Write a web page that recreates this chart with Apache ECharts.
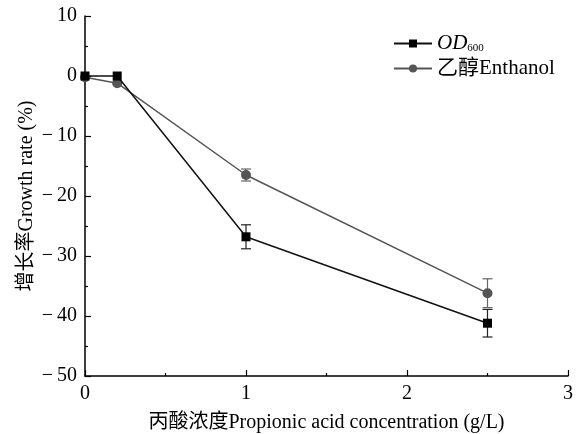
<!DOCTYPE html>
<html><head><meta charset="utf-8">
<script src="https://cdn.jsdelivr.net/npm/echarts@6/dist/echarts.min.js"></script>
<style>html,body{margin:0;padding:0;background:#fff}#c{width:580px;height:434px}</style>
</head><body><div id="c"></div>
<script>
const xValues = [0, 0.2, 1, 2.5];
const odValues = [0, 0, -26.8, -41.2];
const odErr = [0, 0, 2.0, 2.3];
const ethValues = [-0.2, -1.2, -16.5, -36.2];
const ethErr = [0, 0, 1.0, 2.4];
const xTicks = [0, 1, 2, 3];
const yTicks = [10, 0, -10, -20, -30, -40, -50];

const serif = '"Liberation Serif","Times New Roman","Noto Sans CJK SC",serif';

function errSeries(name, vals, errs, color) {
  return {
    type: 'custom', name: name + '_err', silent: true, z: 1,
    data: xValues.map((x, i) => [x, vals[i] - errs[i], vals[i] + errs[i]]).filter((d, i) => errs[i] > 0),
    renderItem: function (params, api) {
      const lo = api.coord([api.value(0), api.value(1)]);
      const hi = api.coord([api.value(0), api.value(2)]);
      const w = 5;
      const st = { stroke: color, lineWidth: 1.2 };
      return { type: 'group', children: [
        { type: 'line', shape: { x1: lo[0], y1: lo[1], x2: hi[0], y2: hi[1] }, style: st },
        { type: 'line', shape: { x1: lo[0] - w, y1: lo[1], x2: lo[0] + w, y2: lo[1] }, style: st },
        { type: 'line', shape: { x1: hi[0] - w, y1: hi[1], x2: hi[0] + w, y2: hi[1] }, style: st }
      ]};
    }
  };
}

const chart = echarts.init(document.getElementById('c'), null, { renderer: 'canvas' });
chart.setOption({
  animation: false,
  backgroundColor: '#fff',
  textStyle: { fontFamily: serif },
  grid: { left: 85, top: 16, right: 12, bottom: 58, containLabel: false, outerBoundsMode: 'none' },
  legend: {
    top: 33, left: 393, padding: 0, orient: 'vertical', itemGap: 4, itemWidth: 38, itemHeight: 10,
    data: ['OD', 'Ethanol'],
    textStyle: {
      fontFamily: serif, fontSize: 21, color: '#000',
      rich: {
        it: { fontStyle: 'italic', fontSize: 21, fontFamily: serif, color: '#000' },
        sub: { fontSize: 11, fontFamily: serif, color: '#000', verticalAlign: 'bottom', padding: [10, 0, 0, 0] },
        n: { fontSize: 21, fontFamily: serif, color: '#000' }
      }
    },
    formatter: function (n) { return n === 'OD' ? '{it|OD}{sub|600}' : '{n|乙醇Enthanol}'; }
  },
  xAxis: {
    type: 'value', min: 0, max: 3, interval: 1,
    axisLine: { show: true, onZero: false, lineStyle: { color: '#000', width: 1.5 } },
    axisTick: { show: true, inside: true, length: 6, lineStyle: { color: '#000', width: 1.2 } },
    minorTick: { show: true, splitNumber: 2, length: 3, lineStyle: { color: '#000', width: 1.2 } },
    splitLine: { show: false },
    axisLabel: { color: '#000', fontSize: 20, fontFamily: serif, margin: 8,
      formatter: v => xTicks.includes(v) ? String(v) : '' },
    name: '丙酸浓度Propionic acid concentration (g/L)', nameLocation: 'middle', nameGap: 37,
    nameTextStyle: { color: '#000', fontSize: 20, fontFamily: serif }
  },
  yAxis: {
    type: 'value', min: -50, max: 10, interval: 10,
    axisLine: { show: true, onZero: false, lineStyle: { color: '#000', width: 1.5 } },
    axisTick: { show: true, inside: true, length: 6, lineStyle: { color: '#000', width: 1.2 } },
    minorTick: { show: true, splitNumber: 2, length: 3, lineStyle: { color: '#000', width: 1.2 } },
    splitLine: { show: false },
    axisLabel: { color: '#000', fontSize: 20, fontFamily: serif, margin: 8,
      formatter: v => yTicks.includes(v) ? (v < 0 ? '\u2212\u2009' + (-v) : String(v)) : '' },
    name: '增长率Growth rate (%)', nameLocation: 'middle', nameGap: 48, nameRotate: 90,
    nameMoveOverlap: false,
    nameTextStyle: { color: '#000', fontSize: 20, fontFamily: serif }
  },
  series: [
    errSeries('OD', odValues, odErr, '#222'),
    errSeries('Ethanol', ethValues, ethErr, '#666'),
    {
      name: 'OD', type: 'line', z: 3,
      data: xValues.map((x, i) => [x, odValues[i]]),
      symbol: 'rect', symbolSize: 9,
      lineStyle: { color: '#111', width: 1.5 },
      itemStyle: { color: '#000' }
    },
    {
      name: 'Ethanol', type: 'line', z: 2,
      data: xValues.map((x, i) => [x, ethValues[i]]),
      symbol: 'circle', symbolSize: 10,
      lineStyle: { color: '#555', width: 1.5 },
      itemStyle: { color: '#555' }
    }
  ]
});
</script></body></html>
